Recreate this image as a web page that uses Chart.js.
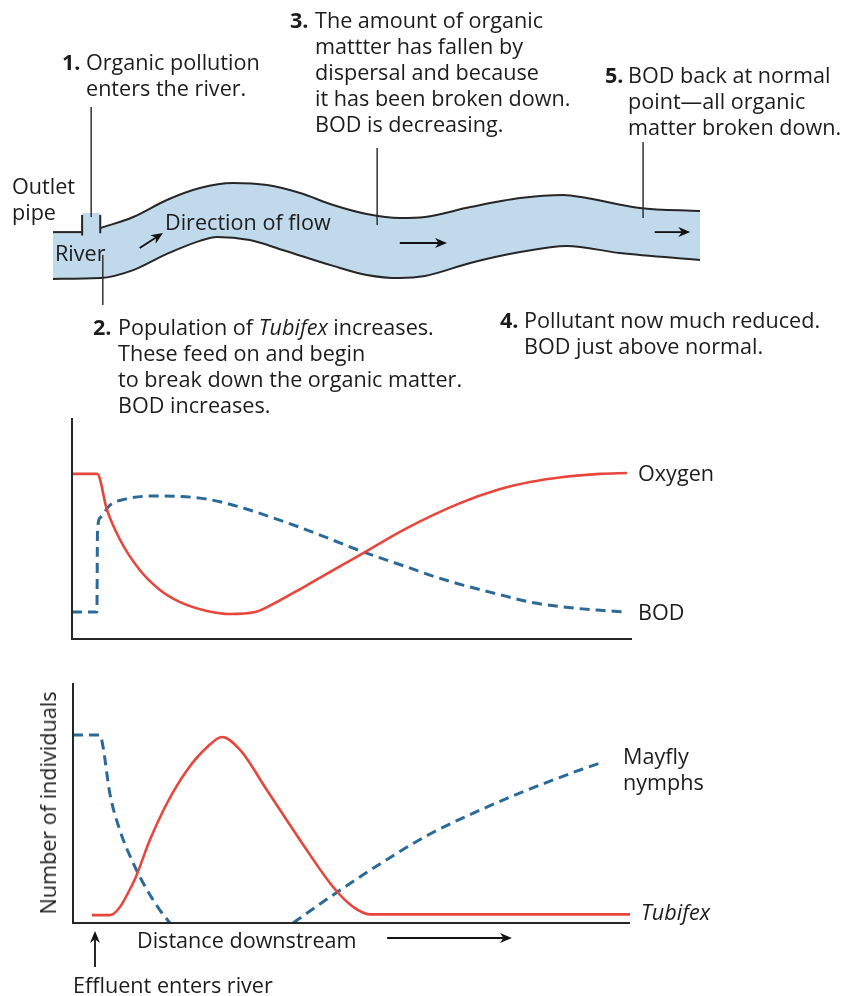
<!DOCTYPE html>
<html>
<head>
<meta charset="utf-8">
<script src="https://cdn.jsdelivr.net/npm/chart.js@4.4.0/dist/chart.umd.min.js"></script>
<style>
  body { margin: 0; background: #fff; width: 853px; height: 996px; position: relative; overflow: hidden;
         font-family: 'Open Sans', sans-serif; color: #1c1c1c; }
  canvas { position: absolute; left: 0; }
  .t { position: absolute; font-size: 21.6px; line-height: 26px; white-space: nowrap; }
  .n { position: absolute; font-weight: bold; }
</style>
</head>
<body>
<canvas id="river" style="top:0" width="853" height="420"></canvas>
<canvas id="oxygen" style="top:400px" width="853" height="260"></canvas>
<canvas id="species" style="top:660px" width="853" height="336"></canvas>

<!-- annotations -->
<div class="t" style="left:62px;top:49px"><span class="n" style="left:0">1.</span><div style="margin-left:24px">Organic pollution<br>enters the river.</div></div>
<div class="t" style="left:290px;top:7px"><span class="n" style="left:0">3.</span><div style="margin-left:25px">The amount of organic<br>mattter has fallen by<br>dispersal and because<br>it has been broken down.<br>BOD is decreasing.</div></div>
<div class="t" style="left:605px;top:62px"><span class="n" style="left:0">5.</span><div style="margin-left:23px">BOD back at normal<br>point—all organic<br>matter broken down.</div></div>
<div class="t" style="left:93px;top:314px"><span class="n" style="left:0">2.</span><div style="margin-left:25px">Population of <i>Tubifex</i> increases.<br>These feed on and begin<br>to break down the organic matter.<br>BOD increases.</div></div>
<div class="t" style="left:500px;top:307px"><span class="n" style="left:0">4.</span><div style="margin-left:24px">Pollutant now much reduced.<br>BOD just above normal.</div></div>
<div class="t" style="left:12px;top:173px">Outlet<br>pipe</div>
<div class="t" style="left:55px;top:240px">River</div>
<div class="t" style="left:165px;top:209px">Direction of flow</div>

<div class="t" style="left:638px;top:460px">Oxygen</div>
<div class="t" style="left:638px;top:599px">BOD</div>
<div class="t" style="left:623px;top:743px">Mayfly<br>nymphs</div>
<div class="t" style="left:641px;top:899px"><i>Tubifex</i></div>
<div class="t" style="left:137px;top:927px">Distance downstream</div>
<div class="t" style="left:73px;top:972px">Effluent enters river</div>
<div class="t" style="left:48px;top:803px;transform:translate(-50%,-50%) rotate(-90deg)">Number of individuals</div>

<script>
// ---- river outline (distance along river 0-100, height 0-100) ----
const bankLeftX = [0, 4.5];
const bankLeftY = [37.1, 37.1];
const bankRightX = [7.3, 12.4, 17.6, 22.7, 27.8, 33.1, 38.2, 43.3, 48.5, 53.6, 57.5, 64.5, 72.2, 78.8, 82.5, 90.7, 100];
const bankRightY = [39.0, 44.3, 52.4, 58.1, 60.5, 59.5, 55.7, 50.0, 45.7, 43.8, 44.3, 49.0, 53.3, 54.8, 53.3, 48.6, 47.1];
const bankLowX = [0, 7.3, 12.4, 17.6, 22.7, 25.3, 30.4, 35.5, 43.3, 48.5, 53.6, 57.5, 64.5, 72.2, 79.4, 87.6, 100];
const bankLowY = [14.8, 15.2, 19.0, 26.7, 32.9, 34.8, 33.3, 28.6, 21.0, 16.7, 15.2, 16.2, 22.4, 27.6, 30.5, 27.1, 23.8];
const pipeX = [4.5, 7.3];
const pipeTop = 46.2;
const pipeBottom = 36.5;
// callout leader lines: [x, top, bottom]
const callouts = [[5.9, 96.7, 44.3], [7.7, 26.2, 2.4], [50.1, 77.1, 40.5], [91.2, 80.0, 43.8]];
const flowArrows = [[[13.4, 29.5], [17.0, 36.7]], [[53.6, 31.9], [60.9, 31.9]], [[93.0, 37.1], [98.5, 37.1]]];

// ---- oxygen / BOD ----
const oxygenDist = [0, 4.5, 6.25, 8.6, 12.1, 15.7, 19.3, 24.1, 28.2, 32.7, 34.5, 42.0, 52.0, 59.8, 69.3, 75.9, 81.8, 87.7, 94.3, 99.1];
const oxygenLevel = [74.7, 74.7, 58.4, 44.8, 31.2, 22.2, 16.7, 12.7, 11.3, 12.2, 14.0, 24.4, 38.9, 50.2, 61.5, 67.4, 71.0, 73.3, 74.7, 75.1];
const bodDist = [0, 4.45, 4.55, 5.0, 6.8, 9.5, 14.5, 19.3, 24.1, 30.0, 35.9, 42.0, 52.0, 59.8, 63.9, 69.8, 75.9, 81.8, 87.7, 93.8, 99.1];
const bodLevel = [12.2, 12.2, 48.0, 54.8, 60.6, 63.3, 64.7, 64.5, 63.3, 59.7, 54.8, 49.3, 39.4, 32.6, 28.9, 24.4, 20.4, 16.7, 14.5, 13.1, 12.2];

// ---- number of individuals ----
const tubifexDist = [3.4, 6.6, 10.8, 13.8, 16.9, 20.5, 24.1, 26.75, 30.0, 34.8, 40.75, 46.7, 50.3, 53.3, 100];
const tubifexCount = [3.3, 3.3, 16.7, 34.6, 50.0, 63.75, 73.3, 77.5, 72.1, 55.4, 34.6, 15.0, 6.7, 3.6, 3.6];
// null = population absent, no line drawn along the axis
const mayflyDist = [0, 4.85, 5.4, 6.6, 8.4, 10.8, 13.3, 15.6, 17.4, 28.0, 39.5, 46.7, 55.1, 64.1, 74.3, 80.3, 86.2, 91.0, 95.2];
const mayflyCount = [78.3, 78.3, 73.3, 54.2, 38.8, 25.0, 13.75, 5.4, 0, null, 0, 11.7, 24.6, 37.1, 48.3, 54.2, 59.6, 63.75, 67.1];
const speciesArrows = [[[3.95, -18.3], [3.95, -3.3]], [[56.4, -6.25], [78.8, -6.25]]];

const RED = '#e8453c';
const BLUE = '#2b6a98';
const INK = '#262626';

const pts = (xs, ys) => xs.map((x, i) => ({ x: x, y: ys[i] }));

const axesPlugin = {
    id: 'axesLines',
    afterDatasetsDraw(chart, args, opts) {
        if (!opts.show) return;
        const { ctx, chartArea: a } = chart;
        ctx.save();
        ctx.strokeStyle = INK;
        ctx.lineWidth = 2;
        ctx.beginPath();
        ctx.moveTo(a.left, a.top);
        ctx.lineTo(a.left, a.bottom);
        ctx.lineTo(a.right, a.bottom);
        ctx.stroke();
        ctx.restore();
    }
};

const arrowPlugin = {
    id: 'arrows',
    afterDatasetsDraw(chart, args, opts) {
        const list = opts.list || [];
        const { ctx } = chart;
        const sx = chart.scales.x, sy = chart.scales.y;
        ctx.save();
        ctx.strokeStyle = '#111';
        ctx.fillStyle = '#111';
        ctx.lineWidth = 1.8;
        list.forEach(([from, to]) => {
            const x1 = sx.getPixelForValue(from[0]), y1 = sy.getPixelForValue(from[1]);
            const x2 = sx.getPixelForValue(to[0]), y2 = sy.getPixelForValue(to[1]);
            const ang = Math.atan2(y2 - y1, x2 - x1);
            const c = Math.cos(ang), s = Math.sin(ang);
            const hl = 12, hw = 5;
            ctx.beginPath();
            ctx.moveTo(x1, y1);
            ctx.lineTo(x2 - c * hl * 0.7, y2 - s * hl * 0.7);
            ctx.stroke();
            ctx.beginPath();
            ctx.moveTo(x2, y2);
            ctx.lineTo(x2 - c * hl - s * hw, y2 - s * hl + c * hw);
            ctx.lineTo(x2 - c * hl * 0.7, y2 - s * hl * 0.7);
            ctx.lineTo(x2 - c * hl + s * hw, y2 - s * hl - c * hw);
            ctx.closePath();
            ctx.fill();
        });
        ctx.restore();
    }
};

function baseOptions(padding, showAxes, arrows) {
    return {
        responsive: false,
        animation: false,
        events: [],
        layout: { padding: padding },
        plugins: {
            legend: { display: false },
            tooltip: { enabled: false },
            axesLines: { show: showAxes },
            arrows: { list: arrows }
        },
        elements: {
            point: { radius: 0 },
            line: { fill: false }
        },
        scales: {
            x: { type: 'linear', display: false, min: 0, max: 100 },
            y: { type: 'linear', display: false, min: 0, max: 100 }
        }
    };
}

function curve(data, color, width, dash) {
    return {
        data: data,
        borderColor: color,
        borderWidth: width,
        borderDash: dash || [],
        cubicInterpolationMode: 'monotone',
        borderJoinStyle: 'round',
        spanGaps: false,
        clip: false
    };
}

function straight(data, color, width) {
    return { data: data, borderColor: color, borderWidth: width, tension: 0, clip: false };
}

// river
const riverSets = [
    curve(pts(bankLeftX, bankLeftY), INK, 2),
    curve(pts(bankRightX, bankRightY), INK, 2),
    curve(pts(bankLowX, bankLowY), INK, 2),
    straight(pts([pipeX[0], pipeX[0]], [pipeTop - 1, pipeBottom - 1]), INK, 2),
    straight(pts([pipeX[1], pipeX[1]], [pipeTop - 1, pipeBottom]), INK, 2)
];
callouts.forEach(c => riverSets.push(straight(pts([c[0], c[0]], [c[1], c[2]]), '#333', 1.5)));
riverSets.push({
    data: pts(pipeX, [pipeTop, pipeTop]),
    borderWidth: 0, tension: 0,
    fill: { value: pipeBottom },
    backgroundColor: '#c0d9eb'
});
riverSets.push({
    data: pts(bankLeftX.concat(bankRightX), bankLeftY.concat(bankRightY)),
    borderWidth: 0,
    cubicInterpolationMode: 'monotone',
    fill: 2,
    backgroundColor: '#c0d9eb'
});

new Chart(document.getElementById('river'), {
    type: 'line',
    data: { datasets: riverSets },
    options: baseOptions({ left: 53, right: 153, top: 100, bottom: 110 }, false, flowArrows),
    plugins: [axesPlugin, arrowPlugin]
});

new Chart(document.getElementById('oxygen'), {
    type: 'line',
    data: {
        datasets: [
            curve(pts(oxygenDist, oxygenLevel), RED, 2.6),
            curve(pts(bodDist, bodLevel), BLUE, 3, [10, 6])
        ]
    },
    options: baseOptions({ left: 72, right: 221, top: 18, bottom: 21 }, true, []),
    plugins: [axesPlugin, arrowPlugin]
});

new Chart(document.getElementById('species'), {
    type: 'line',
    data: {
        datasets: [
            curve(pts(tubifexDist, tubifexCount), RED, 2.6),
            curve(pts(mayflyDist, mayflyCount), BLUE, 3, [10, 6])
        ]
    },
    options: baseOptions({ left: 73, right: 223, top: 23, bottom: 73 }, true, speciesArrows),
    plugins: [axesPlugin, arrowPlugin]
});
</script>
</body>
</html>
